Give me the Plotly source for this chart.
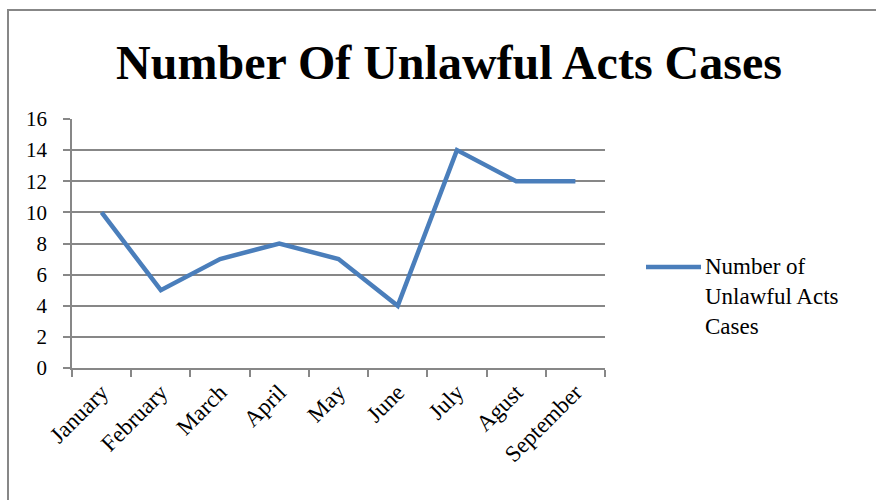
import plotly.graph_objects as go

months = ["January", "February", "March", "April", "May", "June", "July", "Agust", "September"]
cases = [10, 5, 7, 8, 7, 4, 14, 12, 12]
series_name = "Number of<br>Unlawful Acts<br>Cases"
y_ticks = [0, 2, 4, 6, 8, 10, 12, 14, 16]

W, H = 876, 500
L, R, T, B = 72, 605, 119, 368
LINE_COLOR = "#4A7EBB"

fig = go.Figure()
fig.add_trace(go.Scatter(
    x=months, y=cases, mode="lines", name=series_name, showlegend=False,
    line=dict(color=LINE_COLOR, width=4.5),
))

pw = R - L
ph = B - T
def px2x(p): return (p - L) / pw
def px2y(p): return (B - p) / ph

# chart border
fig.add_shape(type="rect", xref="paper", yref="paper",
              x0=px2x(8), x1=px2x(900), y0=px2y(10), y1=px2y(520),
              line=dict(color="#878787", width=2), fillcolor="rgba(0,0,0,0)", layer="below")
# legend key
fig.add_shape(type="line", xref="paper", yref="paper",
              x0=px2x(646), x1=px2x(701), y0=px2y(267), y1=px2y(267),
              line=dict(color=LINE_COLOR, width=4.5))
fig.add_annotation(xref="paper", yref="paper", x=px2x(703), y=px2y(252),
                   xanchor="left", yanchor="top", align="left", showarrow=False,
                   text=series_name, font=dict(size=23, color="black"))

fig.update_layout(
    width=W, height=H,
    margin=dict(l=L, r=W - R, t=T, b=H - B, pad=0),
    paper_bgcolor="white", plot_bgcolor="white",
    font=dict(family="Liberation Serif, DejaVu Serif, serif", color="black", size=20),
    title=dict(text="<b>Number Of Unlawful Acts Cases</b>",
               font=dict(size=48, family="Liberation Serif, serif", color="black"),
               x=449 / W, xanchor="center", xref="container",
               y=1 - 62 / H, yanchor="middle"),
    showlegend=False,
    xaxis=dict(type="category", range=[-0.5, 8.5], showgrid=False,
               showline=True, linecolor="#878787", linewidth=1.5,
               ticks="outside", tickson="boundaries", ticklen=7, tickcolor="#878787",
               tickwidth=1.5, tickangle=-45, tickfont=dict(size=23), zeroline=False),
    yaxis=dict(range=[0, 16], tickvals=y_ticks, showgrid=True, gridcolor="#878787",
               gridwidth=1.5, showline=True, linecolor="#878787", linewidth=1.5,
               ticks="outside", ticklen=7, tickcolor="#878787", tickwidth=1.5,
               tickfont=dict(size=21), zeroline=False, ticklabelstandoff=12),
)

fig.write_html("out.html")
